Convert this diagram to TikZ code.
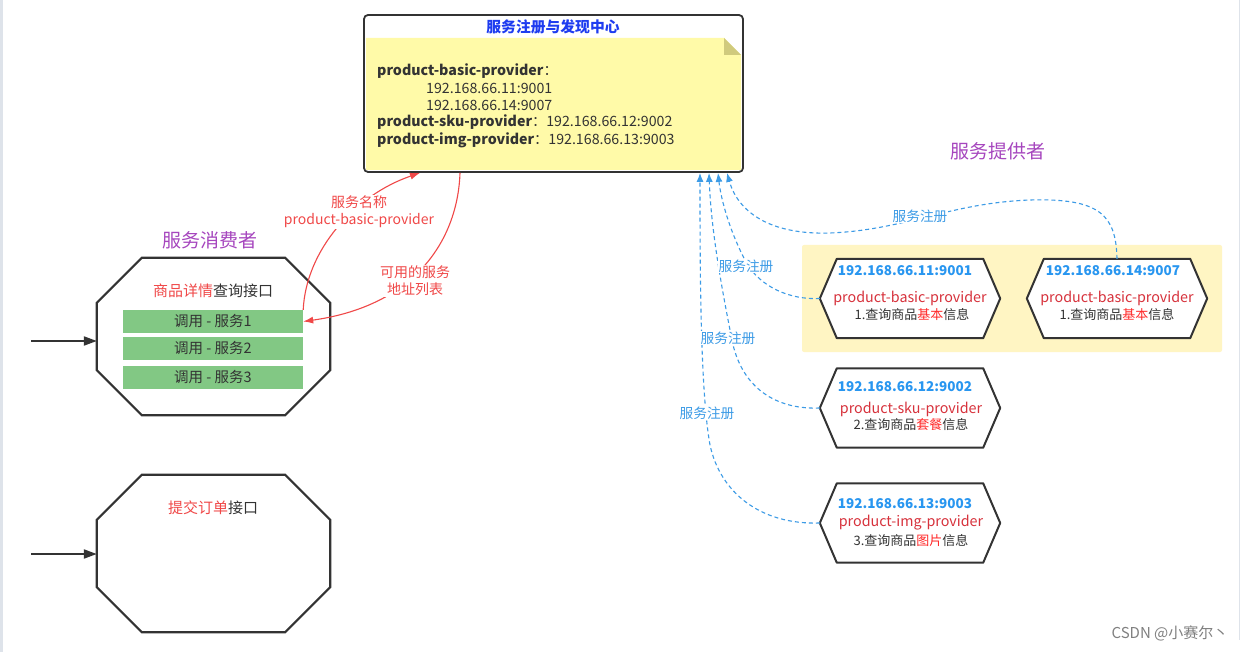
\documentclass[tikz,border=0pt]{standalone}
\usepackage{fontspec}
\setmainfont{Noto Sans CJK SC}
\usetikzlibrary{arrows.meta,calc}
\definecolor{dark}{RGB}{51,51,51}
\definecolor{regblue}{RGB}{30,60,240}
\definecolor{notefill}{RGB}{255,250,168}
\definecolor{foldfill}{RGB}{208,202,125}
\definecolor{purp}{RGB}{166,70,190}
\definecolor{lred}{RGB}{240,72,72}
\definecolor{hred}{RGB}{255,40,40}
\definecolor{nred}{RGB}{215,50,60}
\definecolor{barg}{RGB}{130,200,132}
\definecolor{regbg}{RGB}{255,245,195}
\definecolor{ipblue}{RGB}{40,150,240}
\definecolor{dblue}{RGB}{60,155,230}
\definecolor{edge}{RGB}{222,227,234}
\tikzset{
  txt/.style={font=\fontsize{14.2}{17}\selectfont, text=dark, inner sep=0pt},
  title/.style={font=\fontsize{19}{22}\selectfont, text=purp, inner sep=0pt},
  greenbar/.style={fill=barg, draw=none, minimum width=180pt, minimum height=23pt, inner sep=0pt, font=\fontsize{14.5}{16}\selectfont, text=dark},
  hexbox/.style={draw=none, minimum width=180pt, minimum height=79pt, inner sep=0pt},
  hexline/.style={draw=dark, line width=2pt, fill=white, line join=round},
  octline/.style={draw=dark, line width=2.2pt, fill=white},
  regarrow/.style={dblue, line width=1.1pt, dash pattern=on 4pt off 3pt, -{Latex[length=9pt,width=7pt]}},
  redarrow/.style={lred, line width=1.1pt, -{Latex[length=10pt,width=7pt]}},
  inarrow/.style={dark, line width=2pt, -{Triangle[length=13pt,width=9pt]}},
  blab/.style={font=\fontsize{13.7}{15}\selectfont, text=dblue, fill=white, inner sep=1pt},
  rlab/.style={font=\fontsize{14}{17}\selectfont, text=lred, fill=white, inner sep=1pt, align=center},
  hexip/.style={font=\bfseries\fontsize{13.5}{16}\selectfont, text=ipblue, inner sep=0pt},
  hexname/.style={font=\fontsize{14.3}{16}\selectfont, text=nred, inner sep=0pt},
  hexdesc/.style={font=\fontsize{13}{16}\selectfont, text=dark, inner sep=0pt},
}
\begin{document}
\begin{tikzpicture}[x=1pt,y=-1pt]
\useasboundingbox (0,0) rectangle (1249,652);
\fill[white] (0,0) rectangle (1249,652);
\fill[edge] (0,0) rectangle (3,652);
\draw[edge, line width=1pt] (1239,0) -- (1239,640);

% ---------- registry ----------
\node[draw=dark, line width=1.8pt, rounded corners=4pt, minimum width=379pt, minimum height=157pt, inner sep=0pt] (reg) at (553.5,93.5) {};
\fill[notefill] (366,38) -- (724,38) -- (741,55) -- (741,170) -- (366,170) -- cycle;
\fill[foldfill] (724,38) -- (741,55) -- (724,55) -- cycle;
\node[font=\bfseries\fontsize{14.8}{17}\selectfont, text=regblue, inner sep=0pt] (regtitle) at (553,27) {服务注册与发现中心};
\node[txt, anchor=west] (r1) at (377,71.5) {\textbf{product-basic-provider}：};
\node[txt, anchor=west] (r2) at (426,88.5) {192.168.66.11:9001};
\node[txt, anchor=west] (r3) at (426,105.5) {192.168.66.14:9007};
\node[txt, anchor=west] (r4) at (377,122.5) {\textbf{product-sku-provider}：192.168.66.12:9002};
\node[txt, anchor=west] (r5) at (377,140) {\textbf{product-img-provider}：192.168.66.13:9003};

% ---------- titles ----------
\node[title] (tcons) at (210,240) {服务消费者};
\node[title] (tprov) at (998,151) {服务提供者};

% ---------- consumer octagons ----------
\node[draw=none, minimum width=233pt, minimum height=157pt, inner sep=0pt] (c1) at (213.5,336.5) {};
\node[draw=none, minimum width=233pt, minimum height=157pt, inner sep=0pt] (c2) at (213.5,553.5) {};
\foreach \c in {c1,c2}{
  \draw[octline] ([xshift=45pt]\c.north west) -- ([xshift=-45pt]\c.north east) -- ([yshift=-45pt]\c.north east) -- ([yshift=45pt]\c.south east) -- ([xshift=-45pt]\c.south east) -- ([xshift=45pt]\c.south west) -- ([yshift=45pt]\c.south west) -- ([yshift=-45pt]\c.north west) -- cycle;
}
\node[txt, font=\fontsize{15}{17}\selectfont] (c1t) at (213,291) {\textcolor{lred}{商品详情}查询接口};
\node[greenbar] (bar1) at (213,321.5) {调用 - 服务1};
\node[greenbar] (bar2) at (213,348.5) {调用 - 服务2};
\node[greenbar] (bar3) at (213,377.5) {调用 - 服务3};
\node[txt, font=\fontsize{15}{17}\selectfont] (c2t) at (213,508) {\textcolor{lred}{提交订单}接口};
\coordinate (in1) at (31,341);
\coordinate (in2) at (31,554);
\draw[inarrow] (in1) -- (c1.west |- in1);
\draw[inarrow] (in2) -- (c2.west |- in2);

% ---------- red arrows ----------
\draw[redarrow] (bar1.north east) .. controls (306,250) and (355,195) .. ([xshift=-133.5pt]reg.south);
\node[rlab] (lab1) at (359,212) {服务名称\\product-basic-provider};
\draw[redarrow] ([xshift=-93.5pt]reg.south) .. controls (458,235) and (420,305) .. (bar1.east);
\node[rlab] (lab2) at (415,281) {可用的服务\\地址列表};

% ---------- providers ----------
\fill[regbg, rounded corners=2pt] (802,245) rectangle (1222,352);
\node[hexbox] (p1) at (910,298.5) {};
\node[hexbox] (p2) at (1117,298.5) {};
\node[hexbox] (p3) at (910,408) {};
\node[hexbox] (p4) at (910,523) {};
\foreach \p in {p1,p2,p3,p4}{
  \draw[hexline] (\p.west) -- ([xshift=17pt]\p.north west) -- ([xshift=-17pt]\p.north east) -- (\p.east) -- ([xshift=-17pt]\p.south east) -- ([xshift=17pt]\p.south west) -- cycle;
}
\node[hexip] (p1ip) at (905,271) {192.168.66.11:9001};
\node[hexname] (p1n) at (910,298) {product-basic-provider};
\node[hexdesc] (p1d) at (912,315) {1.查询商品\textcolor{hred}{基本}信息};
\node[hexip] (p2ip) at (1113,271) {192.168.66.14:9007};
\node[hexname] (p2n) at (1117,298) {product-basic-provider};
\node[hexdesc] (p2d) at (1117,315) {1.查询商品\textcolor{hred}{基本}信息};
\node[hexip] (p3ip) at (905,387) {192.168.66.12:9002};
\node[hexname] (p3n) at (911,409) {product-sku-provider};
\node[hexdesc] (p3d) at (911,425) {2.查询商品\textcolor{hred}{套餐}信息};
\node[hexip] (p4ip) at (905,504) {192.168.66.13:9003};
\node[hexname] (p4n) at (911,523) {product-img-provider};
\node[hexdesc] (p4d) at (911,541) {3.查询商品\textcolor{hred}{图片}信息};

% ---------- registration arrows ----------
\draw[regarrow] (p2.north) .. controls (1116,215) and (1100,198) .. (1030,200) .. controls (950,203) and (905,230) .. (830,233) .. controls (770,235) and (738,212) .. ([xshift=173.5pt]reg.south);
\draw[regarrow] (p1.west) .. controls (790,300) and (760,287) .. (746,262) .. controls (730,232) and (721,200) .. ([xshift=164.5pt]reg.south);
\draw[regarrow] (p3.west) .. controls (770,410) and (740,382) .. (732,340) .. controls (722,290) and (711,230) .. ([xshift=155.5pt]reg.south);
\draw[regarrow] (p4.west) .. controls (760,525) and (720,492) .. (710,445) .. controls (700,390) and (700,260) .. ([xshift=146.5pt]reg.south);
\node[blab] (bl1) at (920,216) {服务注册};
\node[blab] (bl2) at (746,266) {服务注册};
\node[blab] (bl3) at (728,338) {服务注册};
\node[blab] (bl4) at (707,413) {服务注册};

% ---------- watermark ----------
\node[font=\fontsize{15}{17}\selectfont, text=black!50, inner sep=0pt] (wm) at (1170,633) {CSDN @小赛尔丶};
\end{tikzpicture}
\end{document}
